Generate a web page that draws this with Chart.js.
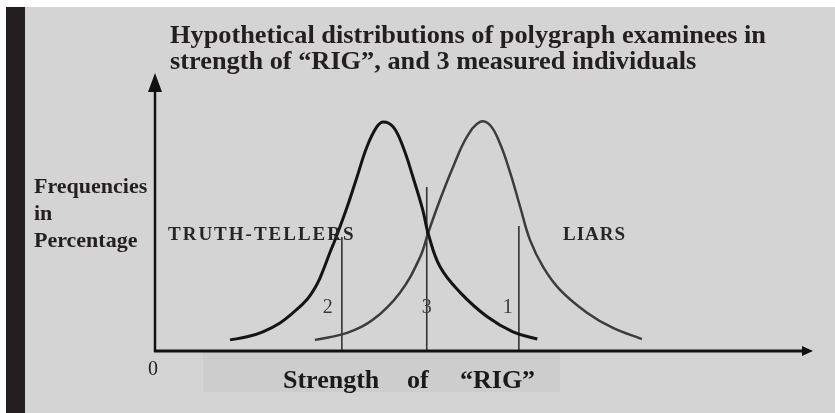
<!DOCTYPE html>
<html>
<head>
<meta charset="utf-8">
<script src="https://cdn.jsdelivr.net/npm/chart.js@4.4.1/dist/chart.umd.min.js"></script>
<style>
  html, body { margin: 0; padding: 0; background: #fff; }
  #wrap { width: 835px; height: 413px; }
</style>
</head>
<body>
<div id="wrap"><canvas id="rigChart" width="835" height="413"></canvas></div>
<script>
// Strength of "RIG" (x, 0-100) and frequency in percentage (y, 0-100)
var truthX = [11.4, 14.0, 16.4, 19.0, 21.0, 23.1, 24.6, 25.6, 26.6, 27.4, 29.2, 30.7, 32.2, 33.7, 34.7, 36.2, 37.7, 39.2, 40.7, 41.5, 43.3, 46.4, 50.5, 54.4, 58.1];
var truthY = [4.0, 5.1, 6.9, 10.1, 13.8, 18.5, 23.9, 29.3, 35.5, 40.2, 51.8, 62.6, 73.4, 80.6, 82.4, 80.6, 73.4, 62.6, 50.7, 42.4, 30.4, 21.0, 12.3, 6.9, 4.3];
var liarsX = [24.3, 29.2, 33.1, 37.2, 40.3, 41.5, 43.3, 45.3, 47.4, 49.4, 50.9, 52.4, 54.0, 55.5, 57.0, 59.0, 61.6, 65.7, 69.6, 74.0];
var liarsY = [4.0, 6.5, 11.2, 20.9, 33.8, 42.4, 54.3, 66.2, 77.0, 82.4, 81.3, 74.8, 64.0, 51.8, 39.9, 30.2, 21.9, 13.7, 8.3, 4.3];

// the 3 measured individuals
var individualLabels = ["1", "2", "3"];
var individualX = [55.3, 28.4, 41.3];
var individualTop = [45.0, 41.0, 59.0];

var groupLabels = ["TRUTH-TELLERS", "LIARS"];
var titleLines = ["Hypothetical distributions of polygraph examinees in", "strength of \u201cRIG\u201d, and 3 measured individuals"];
var yTitleLines = ["Frequencies", "in", "Percentage"];
var xTitleWords = ["Strength", "of", "\u201cRIG\u201d"];

var serif = '"Liberation Serif", "Times New Roman", serif';

function toPoints(xs, ys) {
  return xs.map(function(x, i) { return { x: x, y: ys[i] }; });
}

var datasets = [
  {
    label: "Truth-tellers",
    data: toPoints(truthX, truthY),
    borderColor: "#141414",
    borderWidth: 3,
    tension: 0.4,
    pointRadius: 0
  },
  {
    label: "Liars",
    data: toPoints(liarsX, liarsY),
    borderColor: "#3c3c3c",
    borderWidth: 2.5,
    tension: 0.4,
    pointRadius: 0
  }
];

individualLabels.forEach(function(lbl, i) {
  datasets.push({
    label: "Individual " + lbl,
    data: [{ x: individualX[i], y: 0 }, { x: individualX[i], y: individualTop[i] }],
    borderColor: "#333333",
    borderWidth: 1.6,
    tension: 0,
    pointRadius: 0
  });
});

// background, axes with arrows and all the texts
var figurePlugin = {
  id: "figure",
  beforeDraw: function(chart) {
    var ctx = chart.ctx;
    ctx.save();
    ctx.fillStyle = "#ffffff";
    ctx.fillRect(0, 0, 835, 413);
    ctx.fillStyle = "#d3d4d3";
    ctx.fillRect(6, 7, 829, 406);
    ctx.fillStyle = "#231f20";
    ctx.fillRect(6, 7, 19, 406);
    // shaded band behind the axis title
    ctx.fillStyle = "#cdcdcd";
    ctx.fillRect(203, 352, 357, 40);
    ctx.restore();
  },
  afterDatasetsDraw: function(chart) {
    var ctx = chart.ctx;
    var xs = chart.scales.x, ys = chart.scales.y;
    var x0 = xs.getPixelForValue(0), y0 = ys.getPixelForValue(0);
    var top = chart.chartArea.top, right = chart.chartArea.right;
    ctx.save();

    // y axis
    ctx.strokeStyle = "#111";
    ctx.fillStyle = "#111";
    ctx.lineWidth = 2.5;
    ctx.beginPath();
    ctx.moveTo(x0, y0 + 1);
    ctx.lineTo(x0, top + 15);
    ctx.stroke();
    ctx.beginPath();
    ctx.moveTo(x0, top);
    ctx.lineTo(x0 - 7, top + 19);
    ctx.lineTo(x0 + 7, top + 19);
    ctx.closePath();
    ctx.fill();

    // x axis
    ctx.lineWidth = 3;
    ctx.beginPath();
    ctx.moveTo(x0 - 1, y0);
    ctx.lineTo(right - 8, y0);
    ctx.stroke();
    ctx.beginPath();
    ctx.moveTo(right, y0);
    ctx.lineTo(right - 11, y0 - 5);
    ctx.lineTo(right - 11, y0 + 5);
    ctx.closePath();
    ctx.fill();

    // title
    ctx.fillStyle = "#231f20";
    ctx.textAlign = "left";
    ctx.textBaseline = "alphabetic";
    ctx.font = "bold 26px " + serif;
    var sx = 596 / ctx.measureText(titleLines[0]).width;
    titleLines.forEach(function(line, i) {
      ctx.save();
      ctx.translate(170, 43 + i * 26);
      ctx.scale(sx, 1);
      ctx.fillText(line, 0, 0);
      ctx.restore();
    });

    // y axis title
    ctx.font = "bold 22px " + serif;
    yTitleLines.forEach(function(line, i) {
      ctx.fillText(line, 34, 193 + i * 27);
    });

    // x axis title
    ctx.fillStyle = "#1a1a1a";
    ctx.font = "bold 26px " + serif;
    var wordX = [283, 407, 460];
    xTitleWords.forEach(function(w, i) {
      ctx.fillText(w, wordX[i], 388);
    });

    // origin
    ctx.font = "20px " + serif;
    ctx.textAlign = "center";
    ctx.fillStyle = "#222";
    ctx.fillText("0", x0 - 2, 375);

    // group labels
    ctx.textAlign = "left";
    ctx.fillStyle = "#262626";
    ctx.font = "bold 19px " + serif;
    ctx.letterSpacing = "2px";
    ctx.fillText(groupLabels[0], 168, 240);
    ctx.letterSpacing = "1px";
    ctx.fillText(groupLabels[1], 563, 240);
    ctx.letterSpacing = "0px";

    // individual labels
    ctx.textAlign = "center";
    ctx.fillStyle = "#3a3a3a";
    ctx.font = "20px " + serif;
    var offs = [-11, -14, 0];
    individualLabels.forEach(function(lbl, i) {
      ctx.fillText(lbl, xs.getPixelForValue(individualX[i]) + offs[i], 313);
    });

    ctx.restore();
  }
};

var ctx = document.getElementById("rigChart").getContext("2d");
var rigChart = new Chart(ctx, {
  type: "line",
  data: { datasets: datasets },
  options: {
    responsive: false,
    devicePixelRatio: 1,
    animation: false,
    layout: { padding: { left: 155, right: 22, top: 73, bottom: 62 } },
    plugins: {
      legend: { display: false },
      tooltip: { enabled: false }
    },
    scales: {
      x: { type: "linear", min: 0, max: 100, display: false },
      y: { min: 0, max: 100, display: false }
    }
  },
  plugins: [figurePlugin]
});
</script>
</body>
</html>
